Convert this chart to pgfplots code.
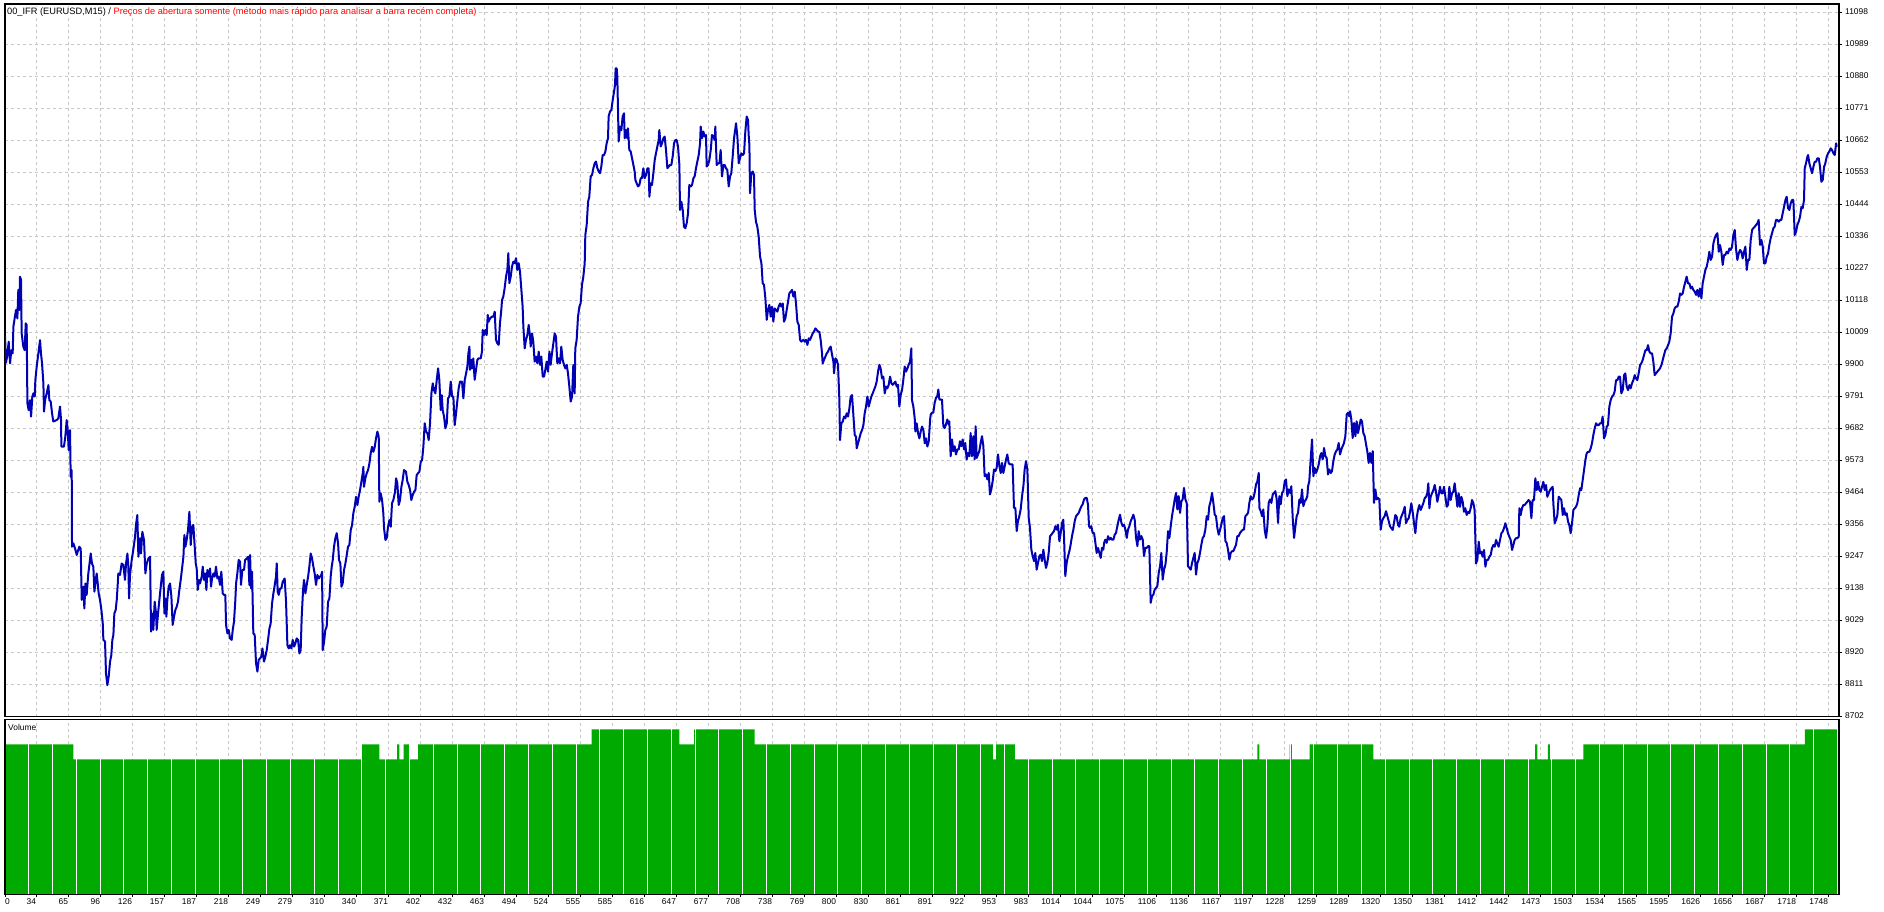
\documentclass[border=0pt]{standalone}
\usepackage{fontspec}
\setmainfont{Liberation Sans}
\usepackage{pgfplots}
\pgfplotsset{compat=1.18}
\definecolor{lineblue}{RGB}{0,0,180}
\definecolor{vgreen}{RGB}{0,170,0}
\definecolor{gridc}{RGB}{200,200,200}
\definecolor{titlered}{RGB}{255,0,0}
\begin{document}
\begin{tikzpicture}
\path[use as bounding box] (0pt,0pt) rectangle (1884pt,912pt);
\pgfplotsset{
  mtgrid/.style={major grid style={draw=gridc, dash pattern=on 3pt off 3pt, line width=1pt}},
  mtfont/.style={tick label style={font=\fontsize{8.4}{10}\selectfont}},
}
% ---------------- upper panel ----------------
\begin{axis}[
  at={(5pt,195.3pt)}, anchor=south west,
  scale only axis, width=1834pt, height=712.7pt,
  xmin=3.665, xmax=1758.68, ymin=8700.6, ymax=11126,
  axis line style={black, line width=1.3pt},
  xtick={34,64.622,...,1749}, xticklabels={},
  xtick style={draw=none},
  ytick={8702,8811,8920,9029,9138,9247,9356,9464,9573,9682,9791,9900,10009,10118,10227,10336,10444,10553,10662,10771,10880,10989,11098},
  yticklabels={8702,8811,8920,9029,9138,9247,9356,9464,9573,9682,9791,9900,10009,10118,10227,10336,10444,10553,10662,10771,10880,10989,11098},
  ytick pos=right, yticklabel pos=right,
  tick align=outside, major tick length=3pt,
  ytick style={black, line width=0.8pt},
  yticklabel style={anchor=west, inner sep=0pt, xshift=3pt, yshift=0.5pt},
  mtfont, xmajorgrids, ymajorgrids, mtgrid,
]
\addplot[lineblue, line width=2pt, line join=round] coordinates {
(3.7,9994)(4.6,9905)(5.9,9931)(7.2,9977)(8.5,9903)(9.7,9948)(11.0,9937)(11.7,10028)(12.9,10056)(14.2,10085)(15.5,10056)(16.4,10153)(17.4,10085)(18.0,10198)(19.0,10187)(19.6,10005)(21.2,9960)(22.5,9948)(23.5,10039)(24.4,10034)(25.1,9767)(26.3,9744)(27.6,9778)(28.6,9722)(29.8,9790)(30.8,9801)(32.1,9790)(32.7,9846)(34.0,9892)(35.6,9937)(37.2,9982)(38.1,9937)(39.1,9903)(40.4,9835)(41.0,9739)(42.0,9778)(43.6,9801)(45.2,9829)(46.1,9778)(47.4,9773)(48.7,9733)(49.9,9705)(53.1,9710)(54.7,9716)(56.3,9756)(57.3,9710)(57.6,9620)(60.1,9620)(61.4,9654)(62.7,9710)(63.7,9676)(64.6,9608)(65.9,9676)(66.5,9517)(67.5,9540)(67.8,9279)(69.1,9290)(70.7,9273)(72.3,9251)(73.2,9262)(74.8,9279)(76.1,9273)(77.1,9098)(78.7,9143)(79.6,9069)(80.6,9154)(81.8,9115)(83.4,9188)(84.4,9217)(85.7,9256)(86.9,9222)(88.2,9211)(89.2,9126)(90.5,9166)(91.4,9188)(92.4,9154)(93.3,9120)(94.6,9098)(95.9,9064)(97.2,9018)(97.8,8962)(99.4,8956)(100.3,8848)(101.6,8808)(102.9,8837)(104.2,8888)(105.4,8910)(106.4,8962)(107.4,8979)(108.3,9052)(109.6,9064)(110.6,9098)(111.5,9149)(112.1,9188)(113.7,9183)(115.3,9222)(116.9,9217)(118.5,9166)(119.5,9222)(120.8,9256)(121.7,9211)(122.4,9103)(123.3,9183)(124.9,9234)(125.9,9256)(127.1,9285)(128.1,9313)(129.0,9353)(130.3,9387)(131.3,9245)(132.9,9308)(133.8,9256)(135.1,9330)(136.7,9302)(138.0,9188)(139.3,9222)(140.9,9239)(142.5,9245)(143.4,8990)(144.7,9052)(145.6,8996)(146.9,9092)(148.2,9052)(148.8,8996)(150.1,9052)(151.4,9098)(152.7,9143)(153.9,9183)(155.2,9194)(156.2,9052)(157.1,9103)(158.1,9041)(159.0,9098)(160.3,9143)(161.6,9154)(162.9,9109)(164.1,9013)(165.4,9041)(166.7,9064)(168.0,9075)(169.2,9092)(170.5,9132)(171.8,9166)(173.1,9205)(174.4,9245)(175.3,9319)(176.3,9279)(177.5,9302)(178.8,9336)(180.1,9398)(181.4,9285)(182.6,9347)(183.9,9353)(185.2,9279)(186.2,9222)(187.1,9205)(188.1,9132)(189.3,9166)(190.3,9154)(191.9,9177)(192.9,9211)(194.1,9166)(195.1,9188)(196.4,9132)(197.3,9200)(198.6,9177)(199.9,9205)(200.8,9143)(201.8,9171)(203.1,9188)(204.3,9177)(205.6,9211)(206.9,9171)(208.2,9177)(209.4,9149)(210.7,9194)(212.0,9120)(213.3,9115)(214.5,9115)(215.2,9013)(216.5,8984)(217.7,8996)(219.0,8967)(220.6,8962)(221.6,8996)(222.8,9024)(224.1,9098)(224.8,9154)(226.0,9188)(227.3,9234)(228.6,9228)(229.5,9149)(230.8,9200)(232.4,9200)(233.4,9234)(235.0,9239)(236.5,9245)(237.5,9149)(238.2,9251)(239.1,9137)(240.1,9194)(241.3,8984)(242.6,8979)(243.9,8882)(245.2,8854)(246.4,8894)(247.7,8899)(249.0,8905)(250.0,8933)(251.5,8888)(252.8,8905)(254.1,8927)(255.4,8962)(256.7,9001)(257.9,9018)(259.2,9086)(260.5,9120)(261.8,9149)(263.0,9177)(263.7,9222)(264.6,9126)(265.6,9115)(266.9,9137)(268.1,9137)(269.4,9160)(271.3,9171)(272.6,9092)(273.9,8944)(275.2,8933)(276.4,8944)(277.7,8933)(279.0,8962)(280.3,8939)(281.5,8950)(282.8,8967)(284.1,8962)(285.4,8916)(286.6,8927)(287.6,9041)(288.9,9132)(289.8,9166)(291.1,9120)(292.4,9149)(293.7,9177)(294.9,9211)(296.2,9256)(297.5,9239)(298.8,9211)(300.0,9188)(301.3,9149)(302.6,9183)(303.9,9171)(305.1,9177)(306.4,9183)(307.1,9194)(307.7,8927)(309.0,8956)(310.2,8996)(311.5,9007)(312.8,9092)(314.1,9103)(315.3,9177)(316.3,9211)(317.3,9234)(318.5,9279)(319.8,9308)(321.1,9325)(322.4,9290)(323.3,9234)(324.6,9222)(325.6,9143)(326.8,9154)(328.1,9200)(329.4,9222)(330.7,9251)(331.9,9279)(333.2,9285)(334.5,9336)(335.8,9353)(337.0,9393)(338.3,9415)(339.6,9449)(340.9,9421)(342.1,9449)(343.4,9472)(344.7,9500)(346.0,9529)(346.6,9551)(347.2,9483)(348.5,9512)(349.8,9529)(351.1,9540)(352.4,9563)(353.6,9597)(354.9,9619)(356.2,9602)(357.5,9619)(358.7,9648)(360.0,9671)(361.3,9654)(361.9,9432)(363.2,9461)(364.5,9438)(365.7,9393)(366.4,9342)(367.7,9302)(368.9,9308)(370.2,9347)(371.5,9370)(372.8,9347)(374.0,9427)(375.3,9438)(376.9,9466)(377.9,9512)(379.1,9495)(380.4,9421)(381.7,9438)(383.0,9483)(384.2,9506)(385.5,9540)(387.4,9534)(388.7,9500)(390.0,9489)(391.3,9472)(392.5,9438)(393.8,9455)(395.1,9466)(396.4,9472)(397.6,9523)(398.9,9529)(400.2,9534)(401.5,9568)(402.8,9574)(404.0,9619)(405.3,9699)(406.6,9671)(407.9,9665)(409.1,9642)(410.4,9699)(411.7,9801)(413.0,9835)(414.2,9812)(415.5,9801)(416.8,9846)(418.1,9886)(419.3,9846)(420.6,9744)(421.6,9795)(422.5,9744)(423.8,9722)(425.1,9682)(426.4,9699)(427.6,9784)(428.9,9790)(430.2,9841)(431.5,9790)(432.7,9790)(434.0,9693)(435.3,9733)(436.6,9778)(437.8,9818)(439.1,9841)(441.0,9841)(442.3,9784)(443.6,9846)(444.9,9869)(446.1,9892)(447.1,9937)(448.1,9960)
(448.6,9881)(449.9,9915)(450.6,9886)(451.8,9920)(453.1,9847)(454.4,9881)(455.7,9915)(456.9,9920)(458.9,9920)(460.1,9943)(460.8,10017)(462.0,9999)(463.3,10017)(464.6,9999)(465.6,10068)(466.5,10045)(467.8,10056)(469.7,10062)(471.0,10062)(472.3,10079)(473.5,9983)(474.8,9971)(476.1,9966)(477.3,10039)(478.6,10085)(479.3,10119)(480.5,10130)(481.8,10159)(483.1,10198)(484.4,10221)(485.3,10278)(486.3,10176)(487.6,10198)(488.8,10232)(490.1,10249)(491.4,10244)(492.7,10261)(493.9,10221)(495.2,10244)(496.5,10215)(497.8,10153)(499.0,10096)(499.7,10028)(501.0,9954)(502.2,9983)(503.5,9999)(504.8,10034)(506.1,9994)(506.7,9960)(508.0,10005)(509.2,9977)(510.5,9909)(511.8,9926)(513.1,9903)(514.4,9943)(515.6,9898)(516.9,9926)(518.2,9858)(519.5,9858)(520.7,9881)(522.0,9909)(523.3,9875)(524.6,9943)(525.8,9898)(527.1,9937)(528.4,9971)(529.7,10005)(530.9,9994)(532.2,9903)(533.5,9920)(534.8,9903)(536.0,9960)(537.3,9915)(538.6,9898)(539.9,9886)(541.2,9898)(542.4,9869)(543.7,9824)(545.0,9773)(546.3,9790)(547.5,9898)(548.8,9801)(549.4,9954)(550.7,9983)(552.0,10062)(553.3,10096)(554.5,10107)(555.8,10170)(557.1,10198)(558.4,10244)(559.0,10340)(560.3,10374)(561.6,10453)(562.8,10470)(564.1,10539)(565.4,10544)(566.7,10567)(568.0,10584)(569.2,10590)(570.5,10567)(571.8,10556)(573.1,10550)(574.3,10573)(575.6,10612)(576.9,10612)(578.2,10624)(579.4,10652)(580.7,10669)(581.3,10743)(582.6,10760)(583.9,10765)(585.2,10799)(586.5,10828)(587.4,10850)(588.0,10907)(589.0,10907)(589.6,10879)(590.9,10658)(592.2,10709)(593.5,10697)(594.7,10743)(596.0,10754)(596.7,10669)(597.9,10697)(599.2,10669)(599.8,10703)(601.1,10629)(602.4,10624)(603.7,10601)(605.0,10578)(606.2,10556)(606.9,10527)(608.1,10516)(609.4,10505)(610.7,10510)(612.0,10533)(613.2,10533)(614.5,10567)(615.8,10533)(617.1,10544)(618.4,10567)(619.6,10567)(620.3,10470)(621.5,10516)(622.8,10510)(624.1,10550)(625.4,10595)(626.6,10618)(627.9,10641)(629.2,10663)(629.8,10697)(631.1,10641)(632.4,10652)(633.7,10669)(634.9,10675)(636.2,10629)(637.5,10567)(638.8,10573)(640.0,10578)(641.3,10578)(642.6,10607)(643.9,10652)(645.1,10663)(646.4,10663)(647.7,10641)(649.0,10578)(649.6,10425)(650.9,10453)(652.2,10425)(653.4,10368)(654.7,10363)(656.0,10380)(657.3,10414)(658.5,10510)(659.8,10505)(661.1,10510)(662.4,10533)(663.6,10539)(664.9,10567)(666.2,10590)(667.5,10612)(668.8,10652)(669.4,10709)(670.7,10669)(671.9,10692)(673.2,10675)(674.5,10680)(675.1,10573)(676.4,10578)(677.7,10595)(679.0,10629)(680.2,10680)(681.5,10675)(682.8,10663)(683.4,10709)(684.7,10578)(686.0,10584)(687.3,10584)(688.5,10629)(689.8,10539)(691.1,10578)(692.4,10578)(693.6,10567)(694.9,10561)(696.2,10505)(697.5,10539)(698.7,10550)(700.0,10607)(701.3,10669)(702.6,10703)(703.2,10720)(704.5,10675)(705.8,10584)(707.0,10601)(708.3,10618)(709.6,10612)(710.9,10618)(712.1,10692)(713.4,10743)(714.7,10731)(715.3,10680)(716.0,10646)(716.6,10482)(717.9,10550)(719.2,10556)(720.4,10544)(721.1,10425)(722.3,10385)(723.6,10368)(724.9,10334)(726.2,10266)(727.5,10244)(728.7,10176)(730.0,10170)(731.3,10124)(732.6,10051)(733.8,10085)(735.1,10102)(736.4,10062)(737.7,10096)(738.9,10045)(740.2,10090)(741.5,10085)(742.8,10079)(744.0,10096)(745.3,10107)(746.6,10096)(747.9,10107)(749.1,10045)(750.4,10056)(751.7,10085)(753.0,10113)(754.2,10141)(755.5,10147)(756.8,10153)(758.1,10130)(759.4,10147)(760.6,10107)(761.9,10045)(763.2,10034)(764.5,9983)(765.7,9977)(767.6,9983)(768.9,9977)(770.2,9983)(771.5,9966)(772.8,9988)(774.0,9983)(775.3,9994)(776.6,10005)(777.8,10011)(779.1,10022)(780.4,10017)(781.7,10011)(782.9,10011)(784.2,9983)(785.5,9937)(786.1,9903)(787.4,9915)(788.7,9926)(790.0,9937)(791.2,9943)(792.5,9954)(793.8,9960)(795.1,9932)(796.4,9909)(797.0,9869)(798.3,9920)(799.5,9915)(800.8,9898)(802.1,9778)(802.7,9642)(804.0,9699)(805.3,9705)(806.6,9722)(807.8,9716)(809.1,9733)(810.4,9722)(811.7,9750)(812.9,9790)(814.2,9795)(815.5,9727)(816.8,9659)(818.0,9654)(818.7,9614)(820.0,9631)(821.2,9648)(822.5,9665)(823.8,9676)(825.1,9693)(826.3,9733)(827.6,9756)(828.9,9790)(830.2,9756)(831.4,9773)(832.7,9790)(834.0,9801)(835.3,9813)(836.5,9824)(837.8,9841)(839.1,9875)(840.4,9898)(841.6,9886)(842.9,9852)(844.2,9858)(845.5,9801)(846.8,9824)(848.0,9818)(849.3,9830)(850.6,9858)(851.9,9835)(853.1,9830)(854.4,9835)(855.7,9841)(857.0,9824)(858.2,9830)(859.5,9756)(860.8,9796)(862.1,9813)(863.3,9847)(864.6,9892)(865.9,9875)(867.2,9886)(868.4,9898)(869.7,9909)(871.0,9954)(871.6,9778)(872.9,9756)(874.2,9716)(874.8,9671)(876.1,9699)(877.4,9665)(878.7,9648)(879.9,9671)(881.2,9688)(882.5,9676)(883.8,9631)(885.0,9648)(886.3,9620)(887.6,9637)(888.9,9710)
(889.5,9729)(890.7,9735)(892.0,9735)(893.3,9769)(894.6,9786)(895.8,9791)(896.8,9814)(897.8,9780)(899.0,9780)(900.3,9780)(901.6,9689)(902.9,9683)(904.1,9695)(905.4,9712)(906.7,9695)(907.3,9706)(908.6,9587)(909.9,9644)(911.2,9604)(912.4,9621)(913.7,9593)(915.0,9610)(916.3,9610)(917.5,9638)(918.8,9621)(920.1,9644)(921.4,9610)(922.6,9632)(923.9,9576)(925.2,9598)(926.5,9587)(927.7,9666)(929.0,9587)(930.3,9655)(931.6,9576)(932.5,9689)(933.5,9581)(934.8,9593)(936.0,9604)(937.3,9632)(938.6,9655)(939.9,9621)(941.1,9519)(942.4,9525)(943.7,9508)(945.0,9530)(946.2,9457)(947.5,9474)(948.8,9502)(950.1,9542)(951.4,9536)(952.6,9547)(953.9,9593)(955.2,9553)(956.5,9530)(957.7,9564)(959.0,9530)(960.3,9553)(961.6,9576)(962.8,9593)(964.1,9564)(965.4,9559)(966.7,9559)(967.9,9559)(969.2,9411)(970.5,9411)(971.8,9332)(973.0,9366)(974.3,9383)(975.6,9406)(976.9,9451)(978.2,9485)(979.4,9542)(980.7,9570)(982.0,9542)(983.3,9377)(984.5,9343)(985.8,9269)(987.1,9247)(988.4,9230)(989.6,9258)(990.9,9201)(992.2,9224)(993.5,9247)(994.7,9252)(996.0,9230)(997.3,9269)(998.6,9235)(999.8,9207)(1001.1,9224)(1002.4,9258)(1003.7,9315)(1004.9,9320)(1006.2,9326)(1007.5,9332)(1008.8,9349)(1010.1,9337)(1011.3,9354)(1012.6,9298)(1013.9,9326)(1015.2,9360)(1016.4,9371)(1017.1,9309)(1018.3,9179)(1019.6,9224)(1020.9,9247)(1022.2,9264)(1023.4,9286)(1024.7,9315)(1026.0,9337)(1027.3,9366)(1028.6,9383)(1029.8,9388)(1031.1,9394)(1032.4,9406)(1033.7,9417)(1034.9,9423)(1036.2,9440)(1037.5,9445)(1038.8,9445)(1040.0,9423)(1041.0,9349)(1042.0,9343)(1043.2,9349)(1044.5,9326)(1045.8,9326)(1047.1,9292)(1048.3,9258)(1049.6,9275)(1050.9,9258)(1052.2,9241)(1053.4,9275)(1054.7,9269)(1055.4,9292)(1056.6,9303)(1057.9,9292)(1059.2,9315)(1060.5,9303)(1061.7,9309)(1063.0,9303)(1064.3,9303)(1065.6,9320)(1066.8,9326)(1068.1,9349)(1069.4,9371)(1070.7,9388)(1072.0,9360)(1073.2,9349)(1074.5,9354)(1075.8,9337)(1077.1,9309)(1078.3,9337)(1079.6,9349)(1080.9,9366)(1082.2,9377)(1083.4,9388)(1084.7,9371)(1086.0,9309)(1087.3,9281)(1088.5,9332)(1089.8,9303)(1091.1,9315)(1092.4,9303)(1093.6,9247)(1094.9,9275)(1096.2,9275)(1097.5,9281)(1098.7,9281)(1100.0,9088)(1101.3,9111)(1102.6,9116)(1103.8,9133)(1105.1,9139)(1106.4,9145)(1107.7,9190)(1109.0,9213)(1110.2,9258)(1111.5,9167)(1112.8,9201)(1114.1,9218)(1115.3,9258)(1116.6,9332)(1117.9,9309)(1119.2,9349)(1120.4,9383)(1121.7,9411)(1123.0,9440)(1124.3,9462)(1125.5,9406)(1126.8,9451)(1128.1,9394)(1129.4,9434)(1130.6,9440)(1131.9,9479)(1133.2,9440)(1134.5,9428)(1135.7,9213)(1137.0,9207)(1138.3,9201)(1139.6,9224)(1140.8,9241)(1142.1,9258)(1143.4,9184)(1144.7,9224)(1145.9,9235)(1147.2,9258)(1148.5,9286)(1149.8,9309)(1151.0,9315)(1152.3,9337)(1153.6,9383)(1154.9,9371)(1156.1,9417)(1157.4,9434)(1158.7,9462)(1160.0,9428)(1161.3,9388)(1162.5,9383)(1163.8,9343)(1165.1,9320)(1166.4,9337)(1167.6,9354)(1168.9,9377)(1170.2,9383)(1171.5,9298)(1172.7,9292)(1174.0,9269)(1175.3,9235)(1176.6,9258)(1177.8,9264)(1179.1,9264)(1180.4,9275)(1181.7,9286)(1182.9,9315)(1184.2,9315)(1185.5,9326)(1186.8,9332)(1188.1,9337)(1189.3,9337)(1190.6,9383)(1191.9,9388)(1193.2,9394)(1194.4,9428)(1195.7,9451)(1197.0,9440)(1198.3,9445)(1199.5,9462)(1200.8,9491)(1202.1,9502)(1203.4,9530)(1204.0,9411)(1205.3,9400)(1206.6,9383)(1207.8,9406)(1209.1,9337)(1210.4,9309)(1211.7,9349)(1212.9,9428)(1214.2,9440)(1215.5,9428)(1216.8,9457)(1218.0,9462)(1219.3,9468)(1220.6,9440)(1221.9,9360)(1223.1,9451)(1224.4,9423)(1225.7,9462)(1227.0,9468)(1228.3,9502)(1229.5,9508)(1230.8,9451)(1232.1,9474)(1233.4,9462)(1234.6,9485)(1235.9,9377)(1237.2,9309)(1238.5,9349)(1239.7,9383)(1241.0,9394)(1242.3,9440)(1243.6,9428)(1244.8,9474)(1246.1,9417)(1247.4,9434)(1248.7,9440)(1249.9,9451)(1250.6,9485)(1251.8,9502)(1253.1,9576)(1254.4,9644)(1255.7,9519)(1256.9,9547)(1258.2,9530)(1259.5,9542)(1260.8,9559)(1262.1,9587)(1263.3,9598)(1264.6,9576)(1265.9,9615)(1267.2,9587)(1268.4,9581)(1269.7,9525)(1271.0,9542)(1272.3,9530)(1273.5,9536)(1274.8,9570)(1276.1,9593)(1277.4,9604)(1278.6,9610)(1279.9,9632)(1281.2,9593)(1282.5,9610)(1283.7,9621)(1285.0,9632)(1286.3,9655)(1287.6,9729)(1288.9,9735)(1290.1,9723)(1290.8,9740)(1292.0,9712)(1293.3,9649)(1294.6,9700)(1295.9,9655)(1297.1,9706)(1298.4,9666)(1299.7,9689)(1301.0,9712)(1302.2,9706)(1303.5,9666)(1304.8,9655)(1306.1,9627)(1307.3,9604)(1308.6,9564)(1309.9,9598)(1311.2,9564)(1312.5,9604)(1313.7,9428)(1315.0,9474)(1316.3,9440)(1317.6,9445)(1318.8,9440)(1320.1,9337)(1321.4,9366)(1322.7,9377)(1323.9,9383)(1325.2,9400)(1326.5,9383)(1327.8,9366)(1329.0,9349)
(1330.3,9342)(1331.6,9336)(1332.8,9359)(1334.1,9387)(1335.4,9381)(1336.7,9353)(1337.9,9347)(1339.2,9376)(1340.5,9387)(1341.8,9398)(1343.1,9415)(1344.3,9359)(1345.6,9370)(1346.9,9376)(1348.2,9398)(1349.4,9427)(1350.7,9398)(1352.0,9359)(1353.3,9325)(1354.5,9376)(1355.8,9404)(1357.1,9421)(1358.4,9404)(1359.6,9415)(1360.9,9427)(1362.2,9444)(1363.5,9449)(1364.7,9461)(1365.7,9495)(1366.7,9410)(1367.9,9449)(1369.2,9461)(1370.5,9472)(1371.8,9489)(1373.0,9466)(1374.3,9432)(1375.6,9455)(1376.9,9483)(1378.1,9461)(1379.4,9461)(1380.7,9483)(1382.0,9449)(1383.3,9415)(1384.5,9421)(1385.8,9483)(1387.1,9438)(1388.4,9461)(1389.6,9466)(1390.9,9495)(1392.2,9455)(1393.5,9415)(1394.7,9461)(1396.0,9415)(1397.3,9449)(1398.6,9432)(1399.8,9398)(1401.1,9410)(1402.4,9387)(1403.7,9398)(1404.9,9393)(1406.2,9410)(1407.5,9438)(1408.8,9427)(1410.0,9404)(1411.3,9222)(1412.6,9234)(1413.9,9296)(1415.2,9256)(1416.4,9262)(1417.7,9245)(1419.0,9268)(1420.3,9211)(1421.5,9234)(1422.8,9234)(1424.1,9245)(1425.4,9251)(1426.6,9274)(1427.9,9285)(1429.2,9279)(1430.5,9302)(1431.7,9291)(1433.0,9279)(1434.3,9302)(1435.6,9325)(1436.8,9330)(1438.1,9342)(1439.4,9359)(1440.7,9342)(1441.9,9325)(1443.2,9313)(1444.5,9302)(1445.8,9268)(1447.1,9285)(1448.3,9302)(1449.6,9308)(1450.9,9308)(1452.2,9313)(1452.8,9410)(1454.1,9387)(1455.3,9410)(1456.6,9421)(1457.9,9421)(1459.2,9427)(1460.4,9432)(1461.7,9438)(1463.0,9432)(1464.3,9376)(1465.5,9438)(1466.8,9438)(1468.1,9512)(1469.4,9472)(1470.7,9500)(1471.9,9472)(1473.2,9466)(1474.5,9483)(1475.8,9500)(1477.0,9472)(1478.3,9489)(1479.6,9449)(1480.9,9461)(1482.1,9472)(1483.4,9478)(1484.7,9483)(1485.3,9427)(1486.6,9359)(1487.9,9370)(1489.2,9387)(1490.4,9449)(1491.7,9444)(1493.0,9438)(1494.3,9387)(1495.5,9410)(1496.8,9387)(1498.1,9393)(1499.4,9364)(1500.6,9353)(1501.9,9325)(1503.2,9359)(1504.5,9404)(1505.8,9410)(1507.0,9415)(1508.3,9427)(1509.6,9455)(1510.9,9478)(1512.1,9472)(1513.4,9506)(1514.7,9540)(1516.0,9574)(1517.2,9597)(1518.5,9602)(1519.8,9602)(1521.1,9614)(1522.3,9631)(1523.6,9659)(1524.9,9682)(1526.2,9699)(1527.4,9693)(1528.7,9693)(1530.0,9699)(1531.3,9699)(1532.5,9722)(1533.8,9648)(1535.1,9659)(1536.4,9688)(1537.6,9693)(1538.9,9756)(1540.2,9778)(1541.5,9790)(1542.8,9795)(1544.0,9807)(1545.3,9846)(1546.6,9846)(1547.9,9858)(1549.1,9858)(1550.4,9801)(1551.7,9812)(1553.0,9863)(1554.2,9869)(1555.5,9824)(1556.8,9812)(1558.1,9829)(1559.3,9818)(1560.6,9835)(1561.9,9846)(1563.2,9863)(1564.4,9852)(1565.7,9846)(1567.0,9869)(1568.3,9897)(1569.5,9903)(1570.8,9914)(1572.1,9931)(1573.4,9948)(1574.7,9948)(1575.9,9965)(1577.2,9943)(1578.5,9937)(1579.8,9937)(1581.0,9909)(1582.3,9863)(1583.6,9869)(1584.9,9875)(1586.1,9880)(1587.4,9886)(1588.7,9897)(1590.0,9914)(1591.2,9931)(1592.5,9948)(1593.8,9954)(1595.1,9965)(1596.3,9977)(1597.6,10005)(1598.9,10062)(1600.2,10073)(1601.4,10090)(1602.7,10096)(1604.0,10096)(1605.3,10113)(1606.6,10141)(1607.8,10136)(1609.1,10141)(1610.4,10164)(1611.7,10181)(1612.9,10198)(1614.2,10175)(1615.5,10175)(1616.8,10158)(1618.0,10164)(1619.3,10153)(1620.6,10147)(1621.9,10136)(1623.1,10153)(1624.4,10130)(1625.7,10158)(1627.0,10124)(1628.2,10175)(1629.5,10198)(1630.8,10221)(1632.1,10232)(1633.4,10255)(1634.6,10283)(1635.9,10255)(1637.2,10266)(1638.5,10312)(1639.7,10329)(1641.0,10340)(1642.3,10346)(1643.6,10283)(1644.8,10306)(1646.1,10283)(1647.4,10238)(1648.7,10272)(1649.9,10272)(1651.2,10283)(1652.5,10277)(1653.8,10294)(1655.0,10289)(1656.3,10300)(1657.6,10340)(1658.9,10357)(1660.1,10294)(1661.4,10255)(1662.7,10277)(1664.0,10289)(1665.2,10283)(1666.5,10260)(1667.8,10283)(1669.1,10300)(1670.4,10221)(1671.6,10255)(1672.9,10255)(1674.2,10323)(1675.5,10357)(1676.7,10363)(1678.0,10368)(1679.3,10374)(1680.6,10380)(1681.8,10391)(1683.1,10306)(1684.4,10323)(1685.7,10300)(1686.9,10243)(1688.2,10243)(1689.5,10266)(1690.8,10277)(1692.0,10306)(1693.3,10329)(1694.6,10346)(1695.9,10363)(1697.1,10368)(1698.4,10391)(1699.7,10391)(1701.0,10385)(1702.3,10391)(1703.5,10391)(1704.8,10414)(1706.1,10436)(1707.4,10459)(1708.6,10470)(1709.9,10431)(1711.2,10425)(1712.5,10448)(1713.7,10459)(1715.0,10459)(1716.3,10340)(1717.6,10351)(1718.8,10374)(1720.1,10385)(1721.4,10402)(1722.7,10436)(1723.9,10431)(1725.2,10459)(1725.9,10567)(1727.1,10584)(1728.4,10606)(1729.1,10612)(1730.3,10584)(1731.6,10567)(1732.9,10550)(1734.2,10572)(1735.4,10589)(1736.7,10589)(1738.0,10601)(1739.3,10601)(1740.5,10572)(1741.8,10521)(1743.1,10527)(1744.4,10572)(1745.6,10584)(1746.9,10606)(1748.2,10618)(1749.5,10624)(1750.7,10635)(1752.0,10629)(1753.3,10618)(1754.6,10612)(1755.9,10652)(1756.5,10640)
};
\end{axis}
\node[anchor=west, inner sep=1pt, fill=white, font=\fontsize{9.25}{11}\selectfont] at (6pt,899.5pt)
  {00\_IFR (EURUSD,M15) / \textcolor{titlered}{Preços de abertura somente (método mais rápido para analisar a barra recém completa)}};
% ---------------- volume panel ----------------
\begin{axis}[
  at={(5pt,17.5pt)}, anchor=south west,
  scale only axis, width=1834pt, height=175.2pt,
  xmin=3.665, xmax=1758.68, ymin=0, ymax=11.68,
  axis line style={black, line width=1.3pt},
  ytick=\empty,
  xtick={34,64.622,...,1749},
  xticklabels={34,65,96,126,157,187,218,249,279,310,340,371,402,432,463,494,524,555,585,616,647,677,708,738,769,800,830,861,891,922,953,983,1014,1044,1075,1106,1136,1167,1197,1228,1259,1289,1320,1350,1381,1412,1442,1473,1503,1534,1565,1595,1626,1656,1687,1718,1748},
  xtick pos=bottom, tick align=outside, major tick length=3pt,
  xtick style={black, line width=0.8pt},
  xticklabel style={anchor=north east, inner sep=0pt, xshift=-0.5pt, yshift=-1pt},
  extra x ticks={3.665}, extra x tick labels={0},
  extra x tick style={xticklabel style={anchor=north west, xshift=0.5pt}},
  mtfont, xmajorgrids, mtgrid,
]
\addplot[const plot mark left, fill=vgreen, draw=none] coordinates {
(3.665,10)(69,9)(345,10)(362,9)(379,10)(381,9)(385,10)(391,9)(399,10)(565,11)(649,10)(663,11)(721,10)(949,9)(952,10)(970,9)(1202,10)(1204,9)(1233,10)(1235,9)(1252,10)(1313,9)(1468,10)(1470,9)(1480,10)(1482,9)(1514,10)(1726,11)(1757,11)
} \closedcycle;
\end{axis}
% overlay: column gaps of the histogram and the frame on top
\begin{axis}[
  at={(5pt,17.5pt)}, anchor=south west,
  scale only axis, width=1834pt, height=175.2pt,
  xmin=3.665, xmax=1758.68, ymin=0, ymax=11.68,
  axis line style={black, line width=1.3pt},
  ytick=\empty, xtick={26.25,49.025,...,1757.2}, xticklabels={},
  major tick length=0pt,
  xmajorgrids, major grid style={white, line width=1pt},
]
\end{axis}
\node[anchor=west, inner sep=0pt, font=\fontsize{8.4}{10}\selectfont] at (8pt,184.5pt) {Volume};
\end{tikzpicture}
\end{document}
